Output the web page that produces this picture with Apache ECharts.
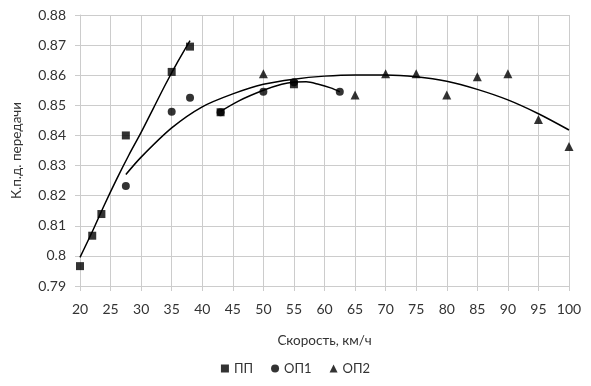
<!DOCTYPE html>
<html>
<head>
<meta charset="utf-8">
<script src="https://cdn.jsdelivr.net/npm/echarts@6/dist/echarts.min.js"></script>
<style>
html,body{margin:0;padding:0;background:#fff;}
#chart{width:591px;height:386px;}
</style>
</head>
<body>
<div id="chart"></div>
<script>
// точки измерений
const ppData = [[20, 0.7966], [22, 0.8067], [23.5, 0.8139], [27.5, 0.840], [35, 0.8611], [38, 0.8695], [43, 0.8477], [55, 0.857]];
const op1Data = [[27.5, 0.8232], [35, 0.8479], [38, 0.8525], [43, 0.8477], [50, 0.8545], [55, 0.8577], [62.5, 0.8545]];
const op2Data = [[50, 0.8605], [65, 0.8534], [70, 0.8605], [75, 0.8605], [80, 0.8534], [85, 0.8595], [90, 0.8605], [95, 0.8453], [100, 0.8363]];

// линии тренда
const ppTrend = [[20, 0.7995], [22, 0.808], [24, 0.817], [26, 0.8255], [28, 0.8335], [30, 0.841], [32, 0.849], [34, 0.857], [36, 0.8645], [38, 0.8715]];
const op1Trend = [[43, 0.848], [46, 0.8515], [50, 0.855], [53, 0.857], [55, 0.8577], [57, 0.8578], [59, 0.857], [61, 0.8558], [62.5, 0.8545]];
const op2Trend = [[27.5, 0.827], [30, 0.8328], [35, 0.8425], [40, 0.8495], [45, 0.8538], [50, 0.857], [55, 0.8587], [60, 0.8597], [65, 0.8601], [70, 0.8601], [75, 0.8595], [80, 0.858], [85, 0.8553], [90, 0.8518], [95, 0.8472], [100, 0.8418]];

const names = ['ПП', 'ОП1', 'ОП2'];

const font = 'Lato';
const gridColor = '#cccccc';

let myChart = echarts.init(document.getElementById('chart'));
let trendLine = (data) => ({
    type: 'line',
    data: data,
    smooth: 0.3,
    showSymbol: false,
    symbol: 'none',
    silent: true,
    lineStyle: { color: '#000', width: 1.5 },
    z: 2
});
let option = {
    animation: false,
    textStyle: { fontFamily: font },
    legend: {
        data: [
            { name: names[0], icon: 'rect' },
            { name: names[1], icon: 'circle' },
            { name: names[2], icon: 'triangle' }
        ],
        bottom: 6,
        left: 'center',
        itemWidth: 8,
        itemHeight: 8,
        itemGap: 18,
        textStyle: { color: '#333', fontSize: 13, fontFamily: font }
    },
    grid: {
        left: 80,
        right: 22,
        top: 15,
        bottom: 100
    },
    xAxis: {
        type: 'value',
        min: 20,
        max: 100,
        interval: 5,
        name: 'Скорость, км/ч',
        nameLocation: 'middle',
        nameGap: 48,
        nameTextStyle: { color: '#333', fontSize: 13.5, fontFamily: font },
        axisLine: { lineStyle: { color: gridColor } },
        axisTick: { show: true, length: 5, lineStyle: { color: gridColor } },
        axisLabel: { color: '#333', fontSize: 14, margin: 16 },
        splitLine: { lineStyle: { color: gridColor } }
    },
    yAxis: {
        type: 'value',
        min: 0.79,
        max: 0.88,
        interval: 0.01,
        name: 'К.п.д. передачи',
        nameLocation: 'middle',
        nameRotate: 90,
        nameGap: 56,
        nameTextStyle: { color: '#333', fontSize: 13.5, fontFamily: font },
        axisLine: { show: true, lineStyle: { color: gridColor } },
        axisTick: { show: true, length: 5, lineStyle: { color: gridColor } },
        axisLabel: {
            color: '#333',
            fontSize: 14,
            margin: 14,
            formatter: (v) => String(parseFloat(v.toFixed(2)))
        },
        splitLine: { lineStyle: { color: gridColor } }
    },
    series: [
        trendLine(ppTrend),
        trendLine(op1Trend),
        trendLine(op2Trend),
        {
            name: names[0],
            type: 'scatter',
            symbol: 'rect',
            symbolSize: 8,
            itemStyle: { color: '#000' },
            data: ppData,
            z: 3
        },
        {
            name: names[1],
            type: 'scatter',
            symbol: 'circle',
            symbolSize: 8,
            itemStyle: { color: '#000' },
            data: op1Data,
            z: 4
        },
        {
            name: names[2],
            type: 'scatter',
            symbol: 'triangle',
            symbolSize: 9,
            itemStyle: { color: '#000' },
            data: op2Data,
            z: 4
        }
    ]
};
myChart.setOption(option);
</script>
</body>
</html>
